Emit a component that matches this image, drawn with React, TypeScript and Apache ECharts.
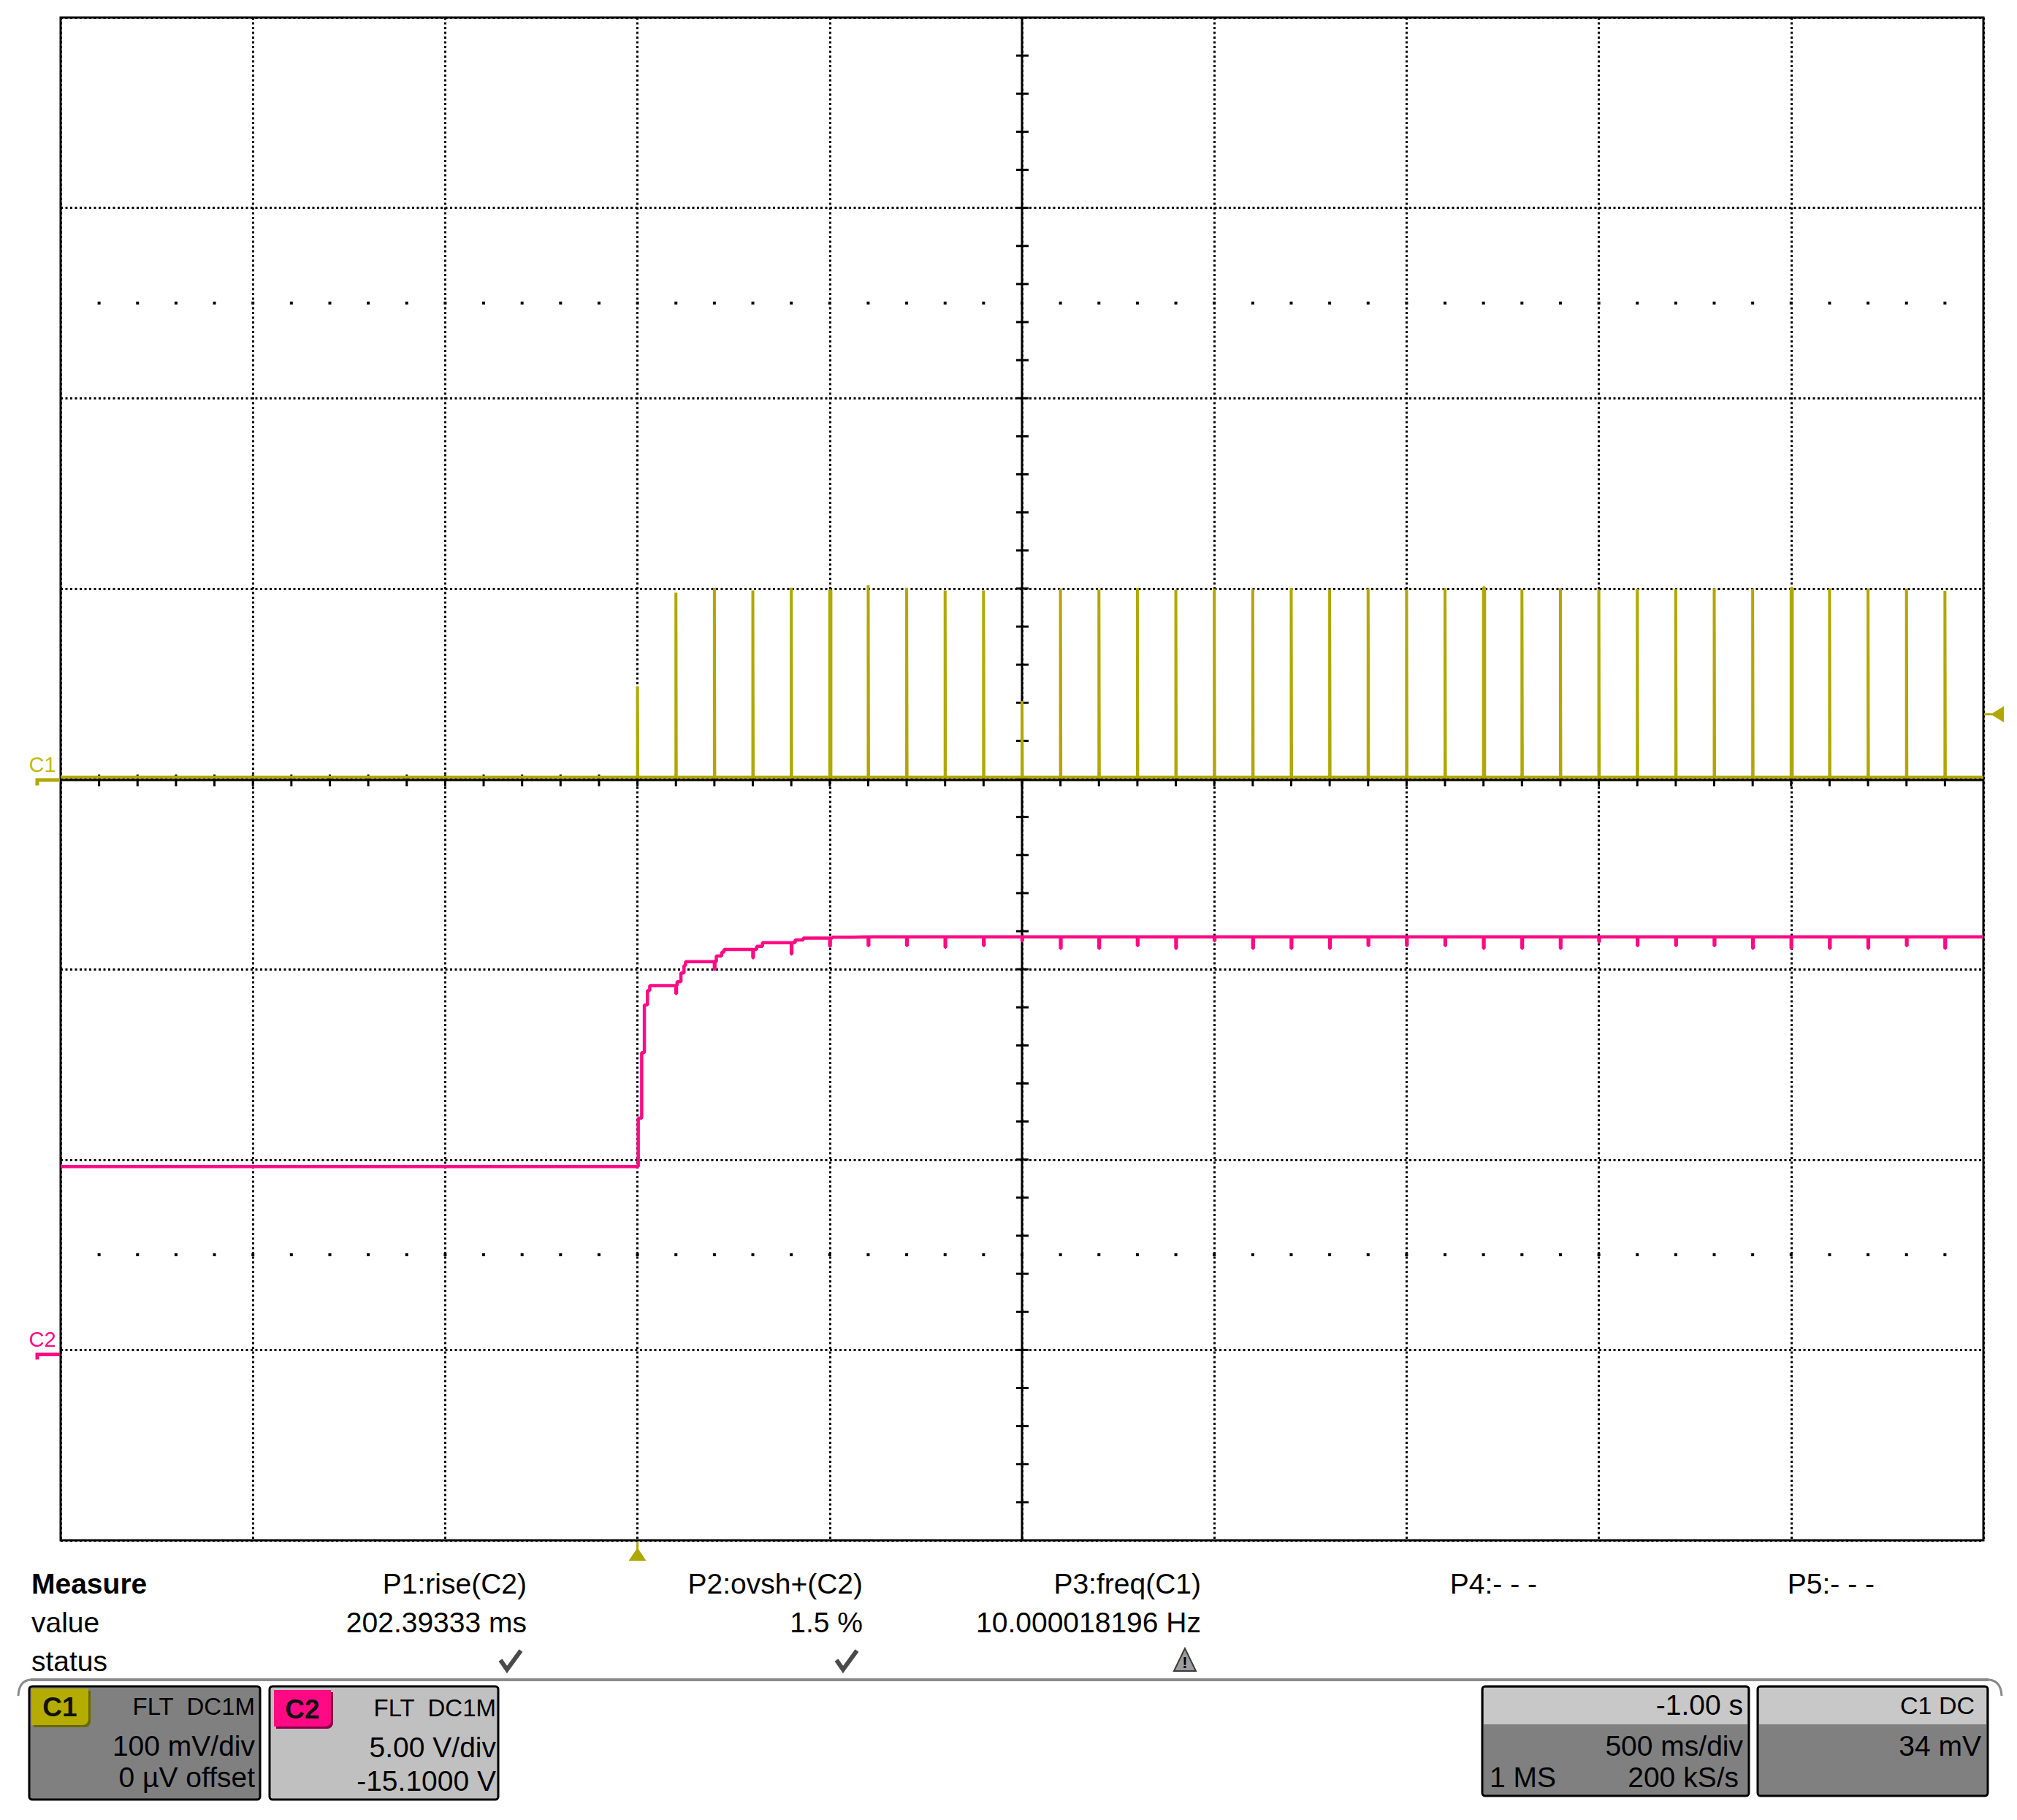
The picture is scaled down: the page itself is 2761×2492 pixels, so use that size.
import React, { useEffect, useRef } from "react";
import * as echarts from "echarts";

const W = 2761;
const H = 2492;

// ---- Timebase: 500 ms/div, 10 div, trigger at t = 0 (delay -1.00 s) ----
const timeMin = -1.5;
const timeMax = 3.5;
const timeDiv = 0.5;
const triggerTime = 0;

// ---- C1: 100 mV/div, 0 offset ----
const c1Min = -400;
const c1Max = 400;
const c1Div = 100;
const c1TriggerLevel = 34; // mV
const c1Baseline = 1.0; // mV

// ---- C2: 5 V/div, -15.1 V offset ----
const c2VoltsPerDiv = 5;
const c2Offset = -15.1;

// C1 pulse train (10 Hz) : times (s), heights (mV), widths (ms)
const c1PulseTimes = [
  0.0, 0.1, 0.2, 0.3, 0.4, 0.5, 0.6, 0.7, 0.8, 0.9, 1.0, 1.1, 1.2, 1.3, 1.4, 1.5, 1.6, 1.7,
  1.8, 1.9, 2.0, 2.1, 2.2, 2.3, 2.4, 2.5, 2.6, 2.7, 2.8, 2.9, 3.0, 3.1, 3.2, 3.3, 3.4,
];
const c1PulseHeights = [
  48.7, 97.8, 100.4, 99.0, 100.4, 99.0, 101.8, 100.4, 99.0, 99.0, 40.9, 100.0, 99.5, 100.2,
  99.4, 100.0, 99.6, 100.3, 99.5, 100.0, 99.3, 100.2, 100.5, 99.6, 100.1, 99.4, 100.0, 99.7,
  100.2, 100.0, 100.1, 100.0, 100.0, 100.0, 98.8,
];
const c1PulseWidths = [
  1, 1, 1, 1, 1, 3, 1, 1, 1, 1, 1, 1, 1, 1, 1, 1, 1, 1, 1, 1, 1, 1, 3, 1, 1, 1, 1, 1, 1, 1,
  3, 1, 1, 1, 1,
];

// C2 output: staircase levels (s, V)
const c2StepTimes = [
  -1.5, 0.0, 0.002, 0.011, 0.018, 0.026, 0.032, 0.103, 0.113, 0.121, 0.125, 0.205, 0.219,
  0.225, 0.31, 0.325, 0.41, 0.431, 0.507, 0.56,
];
const c2StepVolts = [
  4.92, 4.92, 6.19, 7.91, 9.16, 9.54, 9.67, 9.77, 10.0, 10.2, 10.3, 10.45, 10.55, 10.62, 10.7,
  10.8, 10.87, 10.92, 10.94, 10.95,
];
// C2 short dips at each C1 pulse (s, V at bottom of dip)
const c2DipTimes = [
  0.1, 0.2, 0.3, 0.4, 0.5, 0.6, 0.7, 0.8, 0.9, 1.0, 1.1, 1.2, 1.3, 1.4, 1.5, 1.6, 1.7, 1.8,
  1.9, 2.0, 2.1, 2.2, 2.3, 2.4, 2.5, 2.6, 2.7, 2.8, 2.9, 3.0, 3.1, 3.2, 3.3, 3.4,
];
const c2DipVolts = [
  9.46, 10.1, 10.4, 10.5, 10.7, 10.72, 10.72, 10.68, 10.72, 10.85, 10.65, 10.65, 10.72, 10.65,
  10.85, 10.65, 10.65, 10.65, 10.72, 10.72, 10.72, 10.65, 10.65, 10.65, 10.82, 10.72, 10.72,
  10.72, 10.65, 10.65, 10.65, 10.65, 10.72, 10.65,
];

// Measurement table
const measureHeaders = ["P1:rise(C2)", "P2:ovsh+(C2)", "P3:freq(C1)", "P4:- - -", "P5:- - -"];
const measureValues = ["202.39333 ms", "1.5 %", "10.000018196 Hz", "", ""];
const measureStatus = ["ok", "ok", "warn", "", ""];

const OLIVE = "#B0A800";
const PINK = "#FF0A84";
const FONT = '"Liberation Sans", Arial, sans-serif';

const GRID = { left: 83, top: 24, width: 2632, height: 2085 };

function buildC1() {
  const pts: number[][] = [[timeMin, c1Baseline]];
  c1PulseTimes.forEach((t, i) => {
    const w = c1PulseWidths[i] / 1000;
    const h = c1PulseHeights[i];
    pts.push([t, c1Baseline], [t, h], [t + w, h], [t + w, c1Baseline]);
  });
  pts.push([timeMax, c1Baseline]);
  return pts;
}

function buildC2() {
  const pts: { t: number; v: number; o: number }[] = [];
  c2StepTimes.forEach((t, i) => pts.push({ t, v: c2StepVolts[i], o: 0 }));
  c2DipTimes.forEach((t, i) => {
    let lvl = c2StepVolts[0];
    for (let j = 0; j < c2StepTimes.length; j++) if (c2StepTimes[j] <= t) lvl = c2StepVolts[j];
    pts.push({ t, v: c2DipVolts[i], o: 1 });
    pts.push({ t: t + 0.0015, v: lvl, o: 2 });
  });
  pts.push({ t: timeMax, v: c2StepVolts[c2StepVolts.length - 1], o: 3 });
  pts.sort((a, b) => a.t - b.t || a.o - b.o);
  return pts.map((p) => [p.t, p.v]);
}

function txt(
  text: string,
  x: number,
  y: number,
  size: number,
  align: string = "left",
  opts: { bold?: boolean; fill?: string } = {}
) {
  return {
    type: "text",
    x,
    y,
    z: 20,
    silent: true,
    style: {
      text,
      fill: opts.fill || "#000",
      fontSize: size,
      fontFamily: FONT,
      fontWeight: opts.bold ? "bold" : "normal",
      align,
      textAlign: align,
      verticalAlign: "middle",
      textVerticalAlign: "middle",
    },
  };
}

export default function App() {
  const ref = useRef<HTMLDivElement>(null);

  useEffect(() => {
    if (!ref.current) return;
    const chart = echarts.init(ref.current, null, { renderer: "svg" });

    const centerTime = (timeMin + timeMax) / 2;
    const minorTime = timeDiv / 5;
    const minorVolt = c1Div / 5;
    const dotRows = [c1Max - 1.5 * c1Div, c1Min + 1.5 * c1Div];
    const c2Center = -c2Offset;
    const c2Half = (c2VoltsPerDiv * (c1Max - c1Min)) / c1Div / 2;

    const dotted = { color: "#000", width: 3, type: [3, 3.5] as any };

    const option: any = {
      animation: false,
      backgroundColor: "#fff",
      grid: {
        ...GRID,
        show: true,
        borderColor: "#000",
        borderWidth: 3,
        backgroundColor: "transparent",
      },
      xAxis: {
        type: "value",
        min: timeMin,
        max: timeMax,
        interval: timeDiv,
        axisLine: { show: false },
        axisTick: { show: false },
        axisLabel: { show: false },
        splitLine: { show: true, lineStyle: dotted },
      },
      yAxis: [
        {
          type: "value",
          min: c1Min,
          max: c1Max,
          interval: c1Div,
          axisLine: { show: false },
          axisTick: { show: false },
          axisLabel: { show: false },
          splitLine: { show: true, lineStyle: dotted },
        },
        {
          type: "value",
          show: false,
          min: c2Center - c2Half,
          max: c2Center + c2Half,
          splitLine: { show: false },
        },
      ],
      series: [
        {
          type: "custom",
          name: "graticule",
          coordinateSystem: "cartesian2d",
          xAxisIndex: 0,
          yAxisIndex: 0,
          silent: true,
          z: 3,
          clip: false,
          data: [[centerTime, 0]],
          renderItem: (_params: any, api: any) => {
            const children: any[] = [];
            const L = api.coord([timeMin, 0]);
            const R = api.coord([timeMax, 0]);
            const T = api.coord([centerTime, c1Max]);
            const B = api.coord([centerTime, c1Min]);
            const st = { stroke: "#000", lineWidth: 3 };
            children.push({
              type: "line",
              shape: { x1: L[0], y1: L[1] + 1.5, x2: R[0], y2: R[1] + 1.5 },
              style: st,
            });
            children.push({
              type: "line",
              shape: { x1: T[0], y1: T[1], x2: B[0], y2: B[1] },
              style: st,
            });
            const nx = Math.round((timeMax - timeMin) / minorTime);
            for (let k = 1; k < nx; k++) {
              const t = timeMin + k * minorTime;
              const p = api.coord([t, 0]);
              children.push({
                type: "line",
                shape: { x1: p[0], y1: p[1] - 6, x2: p[0], y2: p[1] + 10 },
                style: st,
              });
              dotRows.forEach((v) => {
                const q = api.coord([t, v]);
                children.push({
                  type: "rect",
                  shape: { x: q[0] - 2, y: q[1] - 2, width: 4, height: 4 },
                  style: { fill: "#000" },
                });
              });
            }
            const ny = Math.round((c1Max - c1Min) / minorVolt);
            for (let k = 1; k < ny; k++) {
              const v = c1Min + k * minorVolt;
              const p = api.coord([centerTime, v]);
              children.push({
                type: "line",
                shape: { x1: p[0] - 8, y1: p[1], x2: p[0] + 9, y2: p[1] },
                style: st,
              });
            }
            return { type: "group", children };
          },
        },
        {
          type: "line",
          name: "C1",
          xAxisIndex: 0,
          yAxisIndex: 0,
          data: buildC1(),
          showSymbol: false,
          symbol: "none",
          silent: true,
          z: 6,
          lineStyle: { color: OLIVE, width: 4 },
        },
        {
          type: "line",
          name: "C2",
          xAxisIndex: 0,
          yAxisIndex: 1,
          data: buildC2(),
          step: "end",
          showSymbol: false,
          symbol: "none",
          silent: true,
          z: 5,
          lineStyle: { color: PINK, width: 4.5 },
        },
      ],
    };

    chart.setOption(option);

    // ---- decorations positioned from the axes ----
    const pC1Zero = chart.convertToPixel({ seriesIndex: 1 }, [triggerTime, 0]) as number[];
    const pTrigLvl = chart.convertToPixel({ seriesIndex: 1 }, [timeMax, c1TriggerLevel]) as number[];
    const pC2Zero = chart.convertToPixel({ seriesIndex: 2 }, [triggerTime, 0]) as number[];
    const xTrig = pC1Zero[0];
    const yC1 = pC1Zero[1];
    const yC2 = pC2Zero[1];
    const yTL = pTrigLvl[1];
    const gRight = GRID.left + GRID.width;
    const gBottom = GRID.top + GRID.height;

    const g: any[] = [];
    // channel ground markers
    g.push(txt("C1", 58, yC1 - 20, 29, "center", { fill: "#C2BA10" }));
    g.push({
      type: "polyline",
      z: 20,
      shape: { points: [[51, yC1 + 9], [51, yC1 + 1.5], [82, yC1 + 1.5]] },
      style: { stroke: OLIVE, lineWidth: 5, fill: null },
    });
    g.push(txt("C2", 58, yC2 - 20, 29, "center", { fill: PINK }));
    g.push({
      type: "polyline",
      z: 20,
      shape: { points: [[51, yC2 + 8], [51, yC2 + 1], [82, yC2 + 1]] },
      style: { stroke: PINK, lineWidth: 5, fill: null },
    });
    // trigger level marker (right)
    g.push({
      type: "line",
      z: 20,
      shape: { x1: gRight + 1, y1: yTL, x2: gRight + 12, y2: yTL },
      style: { stroke: OLIVE, lineWidth: 3 },
    });
    g.push({
      type: "polygon",
      z: 20,
      shape: { points: [[gRight + 10, yTL], [gRight + 28, yTL - 11], [gRight + 28, yTL + 11]] },
      style: { fill: OLIVE },
    });
    // trigger position marker (bottom)
    g.push({
      type: "line",
      z: 20,
      shape: { x1: xTrig, y1: gBottom + 2, x2: xTrig, y2: gBottom + 12 },
      style: { stroke: OLIVE, lineWidth: 3 },
    });
    g.push({
      type: "polygon",
      z: 20,
      shape: { points: [[xTrig, gBottom + 10], [xTrig - 12, gBottom + 28], [xTrig + 12, gBottom + 28]] },
      style: { fill: OLIVE },
    });

    // measurement table
    const colRight = [721, 1181, 1644, 2104, 2566];
    const rowY = [2168, 2221, 2274];
    g.push(txt("Measure", 43, rowY[0], 39, "left", { bold: true }));
    g.push(txt("value", 43, rowY[1], 39));
    g.push(txt("status", 43, rowY[2], 39));
    measureHeaders.forEach((h, i) => g.push(txt(h, colRight[i], rowY[0], 39, "right")));
    measureValues.forEach((v, i) => {
      if (v) g.push(txt(v, colRight[i], rowY[1], 39, "right"));
    });
    measureStatus.forEach((s, i) => {
      const cx = colRight[i] - 22;
      const cy = rowY[2];
      if (s === "ok") {
        g.push({
          type: "polyline",
          z: 20,
          shape: { points: [[cx - 14, cy - 1], [cx - 5, cy + 12], [cx + 14, cy - 14]] },
          style: { stroke: "#4a4a4a", lineWidth: 6, fill: null, lineJoin: "miter" },
        });
      } else if (s === "warn") {
        g.push({
          type: "polygon",
          z: 20,
          shape: { points: [[cx, cy - 17], [cx - 15, cy + 14], [cx + 15, cy + 14]] },
          style: { fill: "#9c9c9c", stroke: "#3a3a3a", lineWidth: 2 },
        });
        g.push(txt("!", cx, cy + 2, 22, "center", { bold: true }));
      }
    });

    // separator line with curved ends
    g.push({
      type: "line",
      z: 20,
      shape: { x1: 42, y1: 2300, x2: 2722, y2: 2300 },
      style: { stroke: "#8a8a8a", lineWidth: 4 },
    });
    g.push({
      type: "bezierCurve",
      z: 20,
      shape: { x1: 42, y1: 2300, cpx1: 26, cpy1: 2301, x2: 25, y2: 2322 },
      style: { stroke: "#8a8a8a", lineWidth: 3, fill: null },
    });
    g.push({
      type: "bezierCurve",
      z: 20,
      shape: { x1: 2722, y1: 2300, cpx1: 2739, cpy1: 2301, x2: 2740, y2: 2322 },
      style: { stroke: "#8a8a8a", lineWidth: 3, fill: null },
    });

    // C1 channel box
    g.push({
      type: "rect",
      z: 19,
      shape: { x: 40, y: 2309, width: 316, height: 155, r: 4 },
      style: { fill: "#808080", stroke: "#000", lineWidth: 3 },
    });
    g.push({
      type: "rect",
      z: 19,
      shape: { x: 46, y: 2315, width: 78, height: 50, r: [0, 0, 8, 0] },
      style: { fill: "#6B6800" },
    });
    g.push({
      type: "rect",
      z: 19,
      shape: { x: 43, y: 2312, width: 78, height: 50, r: [0, 0, 8, 0] },
      style: { fill: "#B4AC00" },
    });
    g.push(txt("C1", 82, 2337, 37, "center", { bold: true, fill: "#111" }));
    g.push(txt("FLT  DC1M", 349, 2336, 33, "right"));
    g.push(txt("100 mV/div", 349, 2390, 39, "right"));
    g.push(txt("0 µV offset", 349, 2433, 39, "right"));

    // C2 channel box
    g.push({
      type: "rect",
      z: 19,
      shape: { x: 369, y: 2309, width: 313, height: 155, r: 4 },
      style: { fill: "#C0C0C0", stroke: "#000", lineWidth: 3 },
    });
    g.push({
      type: "rect",
      z: 19,
      shape: { x: 378, y: 2317, width: 78, height: 50, r: [0, 0, 8, 0] },
      style: { fill: "#8A0048" },
    });
    g.push({
      type: "rect",
      z: 19,
      shape: { x: 375, y: 2314, width: 78, height: 50, r: [0, 0, 8, 0] },
      style: { fill: PINK },
    });
    g.push(txt("C2", 414, 2340, 37, "center", { bold: true, fill: "#111" }));
    g.push(txt("FLT  DC1M", 679, 2338, 33, "right"));
    g.push(txt("5.00 V/div", 679, 2392, 39, "right"));
    g.push(txt("-15.1000 V", 679, 2438, 39, "right"));

    // timebase box
    g.push({
      type: "rect",
      z: 19,
      shape: { x: 2029, y: 2309, width: 365, height: 150, r: 4 },
      style: { fill: "#808080", stroke: "#000", lineWidth: 3 },
    });
    g.push({
      type: "rect",
      z: 19,
      shape: { x: 2031, y: 2311, width: 361, height: 50 },
      style: { fill: "#C8C8C8" },
    });
    g.push(txt("-1.00 s", 2386, 2334, 39, "right"));
    g.push(txt("500 ms/div", 2386, 2390, 39, "right"));
    g.push(txt("1 MS", 2039, 2433, 39, "left"));
    g.push(txt("200 kS/s", 2380, 2433, 39, "right"));

    // trigger box
    g.push({
      type: "rect",
      z: 19,
      shape: { x: 2406, y: 2309, width: 315, height: 150, r: 4 },
      style: { fill: "#808080", stroke: "#000", lineWidth: 3 },
    });
    g.push({
      type: "rect",
      z: 19,
      shape: { x: 2408, y: 2311, width: 311, height: 50 },
      style: { fill: "#C8C8C8" },
    });
    g.push(txt("C1 DC", 2703, 2335, 34, "right"));
    g.push(txt("34 mV", 2712, 2390, 39, "right"));

    chart.setOption({ graphic: g });

    return () => chart.dispose();
  }, []);

  return (
    <div
      ref={ref}
      style={{ position: "absolute", left: 0, top: 0, width: W, height: H, background: "#fff" }}
    />
  );
}
